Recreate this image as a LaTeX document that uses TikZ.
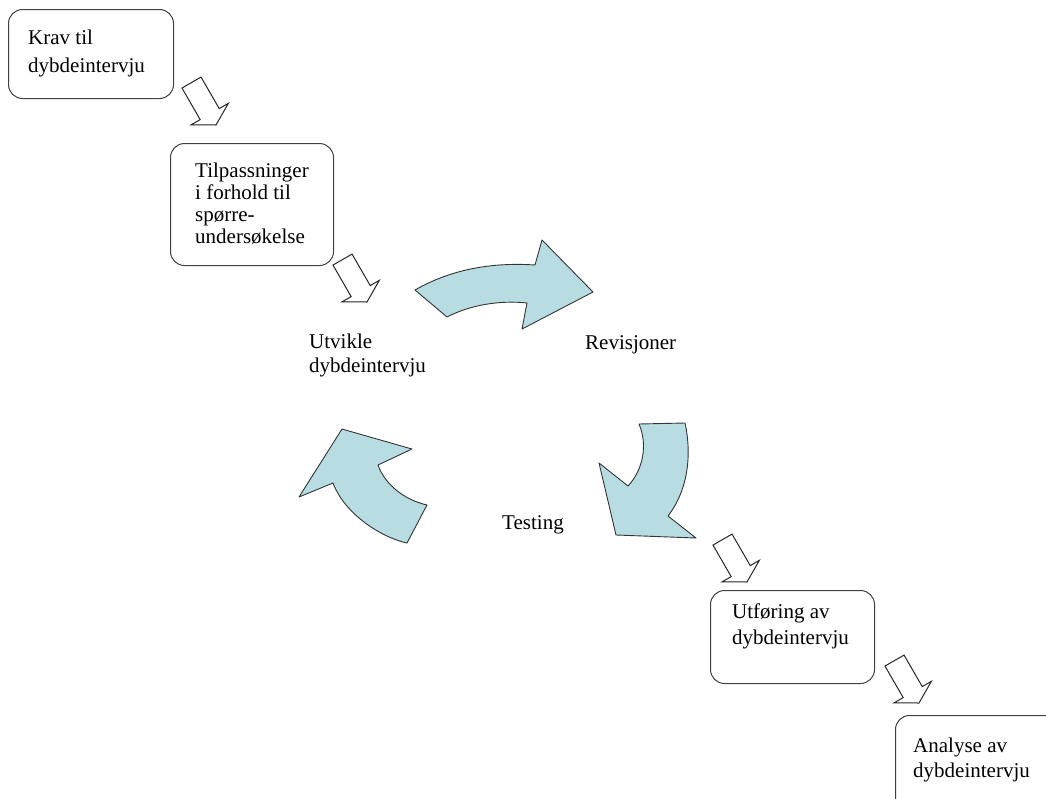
\documentclass[tikz,border=0pt]{standalone}
\usepackage{fontspec}
\setmainfont{Liberation Serif}
\definecolor{arrowfill}{RGB}{183,221,226}
\begin{document}
\begin{tikzpicture}[x=1pt,y=-1pt,
  roundbox/.style={draw=black!75, line width=1pt, rounded corners=14pt, inner sep=0pt, anchor=north west},
  lbl/.style={inner sep=0pt, anchor=north west, align=left},
  hollow/.style={draw=black!85, line width=1pt, fill=white, line join=miter},
  curved/.style={draw=black!80, line width=0.9pt, fill=arrowfill, line join=round}]
\useasboundingbox (0,0) rectangle (1046,798);

% boxes
\node[roundbox, minimum width=165pt, minimum height=89pt] (b1) at (8,9) {};
\node[roundbox, minimum width=163pt, minimum height=122pt] (b2) at (170,143) {};
\node[roundbox, minimum width=164pt, minimum height=93pt] (b3) at (710,590) {};
\node[roundbox, minimum width=165pt, minimum height=100pt] (b4) at (895,715) {};

% labels
\node[lbl, font=\fontsize{21}{28}\selectfont] (t1) at (28,29.5) {Krav til\\dybdeintervju};
\node[lbl, font=\fontsize{21}{22}\selectfont] (t2) at (195,162.5) {Tilpassninger\\i forhold til\\spørre-\\undersøkelse};
\node[lbl, font=\fontsize{21}{24}\selectfont] (t3) at (309,333.5) {Utvikle\\dybdeintervju};
\node[lbl, font=\fontsize{21}{24}\selectfont] (t4) at (585,335.5) {Revisjoner};
\node[lbl, font=\fontsize{21}{24}\selectfont] (t5) at (502,515.5) {Testing};
\node[lbl, font=\fontsize{21}{26}\selectfont] (t6) at (732,603.5) {Utføring av\\dybdeintervju};
\node[lbl, font=\fontsize{21}{25}\selectfont] (t7) at (913,737.5) {Analyse av\\dybdeintervju};

% hollow block arrows (tip at the given point, pointing down-right)
\foreach \tip in {(216,125),(367,302),(747,582),(919,703)}{
  \draw[hollow, shift={\tip}, rotate=30]
    (-11,-49) -- (11,-49) -- (11,-12.6) -- (21.5,-12.6) -- (0,0)
    -- (-21.5,-12.6) -- (-11,-12.6) -- cycle;
}

% curved block arrows
\draw[curved] (415,290) .. controls (450,270) and (490,262) .. (535,265)
  -- (542,240) -- (593,292) -- (522,329) -- (527,303)
  .. controls (500,300) and (470,305) .. (447,317) -- cycle;
\draw[curved] (639,424) -- (685,423) .. controls (692,455) and (688,490) .. (668,516)
  -- (696,538) -- (616,535) -- (599,463) -- (628,486)
  .. controls (643,470) and (648,445) .. (639,424) -- cycle;
\draw[curved] (342,429) -- (412,449) -- (378,465)
  .. controls (385,485) and (405,500) .. (427,505)
  -- (407,543) .. controls (383,538) and (345,515) .. (333,483)
  -- (299,497) -- cycle;
\end{tikzpicture}
\end{document}
